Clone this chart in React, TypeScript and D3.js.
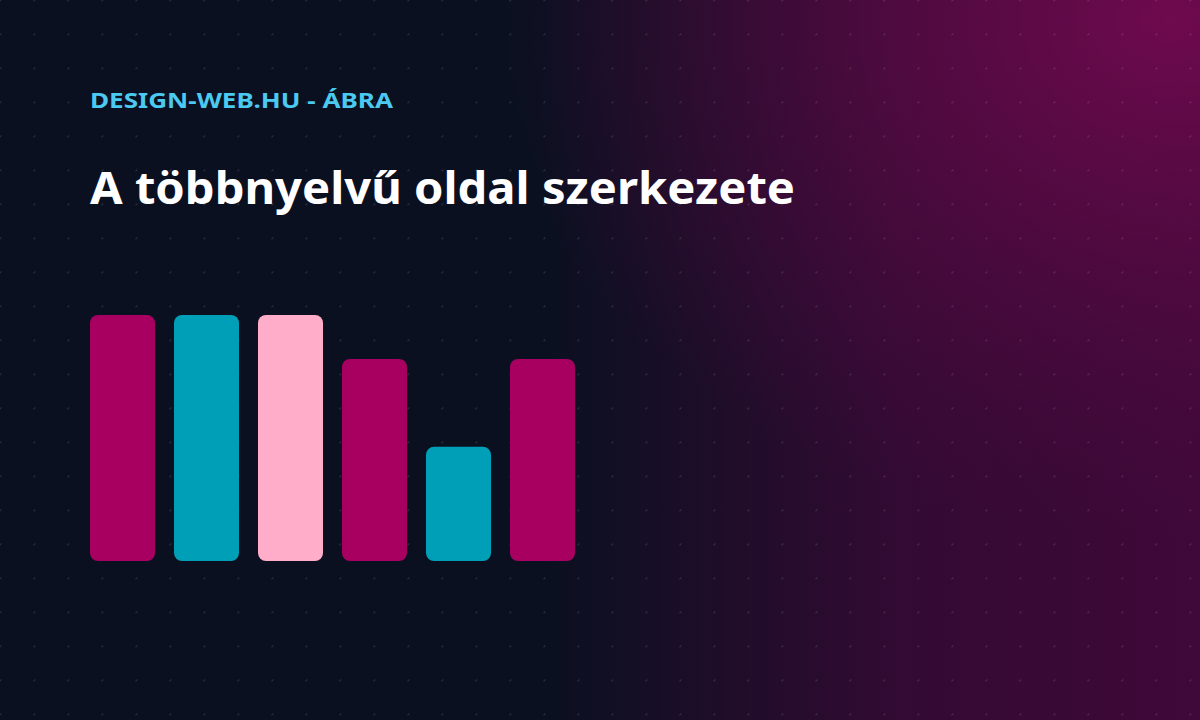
import React from "react";
import * as d3 from "d3";

const categories = ["1", "2", "3", "4", "5", "6"];
const values = [28, 28, 28, 23, 13, 23];
const barColors = ["#a80060", "#009fb8", "#ffadc9", "#a80060", "#009fb8", "#a80060"];
const subtitle = "DESIGN-WEB.HU - ÁBRA";
const title = "A többnyelvű oldal szerkezete";

const W = 1200;
const H = 720;

export default function App() {
  const x = d3.scaleBand<string>().domain(categories).range([90, 575]).paddingInner(0.226).paddingOuter(0);
  const y = d3.scaleLinear().domain([0, 28]).range([561, 315]);
  const font = "'Noto Sans', 'Open Sans', sans-serif";
  return (
    <div style={{ position: "fixed", left: 0, top: 0, width: W, height: H }}>
      <svg width={W} height={H} style={{ display: "block" }}>
        <defs>
          <linearGradient id="lin" x1="0" y1="0" x2="1" y2="0">
            <stop offset="0.45" stopColor="#42083a" stopOpacity={0} />
            <stop offset="0.75" stopColor="#42083a" stopOpacity={0.72} />
            <stop offset="1" stopColor="#42083a" stopOpacity={0.95} />
          </linearGradient>
          <radialGradient id="rad" gradientUnits="userSpaceOnUse" cx={1170} cy={20} r={520}
            gradientTransform="translate(1170 20) scale(1.3 1) translate(-1170 -20)">
            <stop offset="0" stopColor="#6e0a4e" stopOpacity={1} />
            <stop offset="0.45" stopColor="#5c0a45" stopOpacity={0.6} />
            <stop offset="1" stopColor="#4a0a3e" stopOpacity={0} />
          </radialGradient>
          <pattern id="dots" width={34} height={34} patternUnits="userSpaceOnUse">
            <rect x={-0.1} y={-1.5} width={0.9} height={3} fill="#ffffff" opacity={0.07} />
            <rect x={-1.5} y={-0.1} width={3} height={0.9} fill="#ffffff" opacity={0.07} />
            <rect x={33.1} y={-1.5} width={1} height={3} fill="#ffffff" opacity={0.07} />
            <rect x={-1.5} y={33.1} width={3} height={1} fill="#ffffff" opacity={0.07} />
          </pattern>
        </defs>
        <rect width={W} height={H} fill="#0a1020" />
        <rect width={W} height={H} fill="url(#lin)" />
        <rect width={W} height={H} fill="url(#rad)" />
        <rect width={W} height={H} fill="url(#dots)" />
        <text x={90} y={108} fill="#4cc9f0" fontFamily={font} fontWeight={700} fontSize={22}
          textLength={303} lengthAdjust="spacingAndGlyphs">{subtitle}</text>
        <text x={90} y={204} fill="#ffffff" fontFamily={font} fontWeight={700} fontSize={44}
          textLength={705} lengthAdjust="spacingAndGlyphs">{title}</text>
        {categories.map((c, i) => (
          <rect key={c} x={x(c)} y={y(values[i])} width={x.bandwidth()} height={y(0) - y(values[i])}
            rx={8} ry={8} fill={barColors[i]} />
        ))}
      </svg>
    </div>
  );
}
